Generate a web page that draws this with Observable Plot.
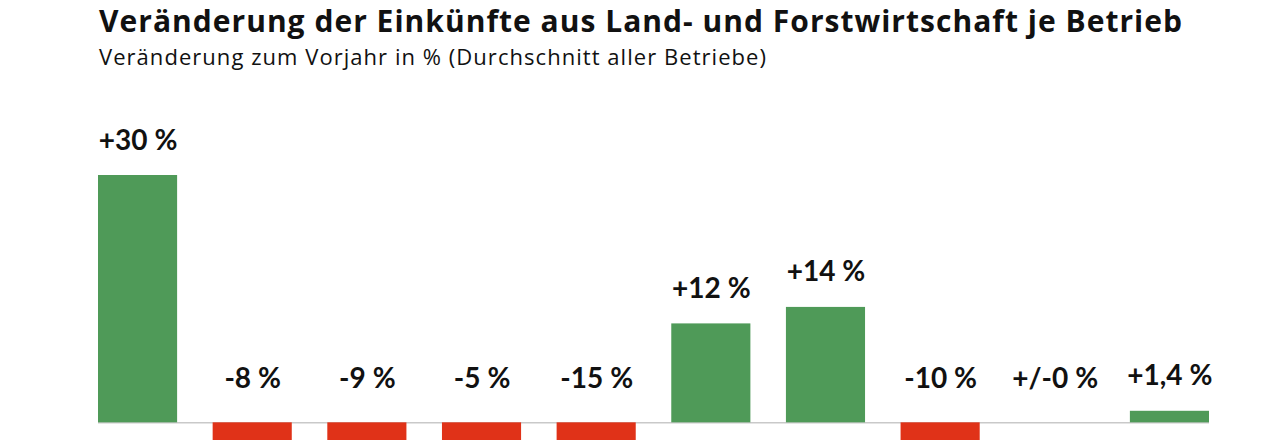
<!DOCTYPE html>
<html>
<head>
<meta charset="utf-8">
<script src="https://cdn.jsdelivr.net/npm/d3@7"></script>
<script src="https://cdn.jsdelivr.net/npm/@observablehq/plot@0.6"></script>
<style>
  html, body { margin: 0; padding: 0; background: #fff; overflow: hidden; }
  body { width: 1280px; height: 440px; font-family: "Open Sans", Lato, sans-serif; color: #111; }
  #title { position: absolute; left: 99px; top: 0px; font-size: 30px; font-weight: 700; line-height: 42px; white-space: nowrap; }
  #subtitle { position: absolute; left: 99px; top: 40px; font-size: 22px; font-weight: 400; line-height: 32px; white-space: nowrap; }
  #chart { position: absolute; left: 0; top: 80px; }
</style>
</head>
<body>
<div id="title">Veränderung der Einkünfte aus Land- und Forstwirtschaft je Betrieb</div>
<div id="subtitle">Veränderung zum Vorjahr in % (Durchschnitt aller Betriebe)</div>
<div id="chart"></div>
<script>
const categories = ["2011", "2012", "2013", "2014", "2015", "2016", "2017", "2018", "2019", "2020"];
const values = [30, -8, -9, -5, -15, 12, 14, -10, 0, 1.4];
const labels = ["+30\u202F%", "-8\u202F%", "-9\u202F%", "-5\u202F%", "-15\u202F%", "+12\u202F%", "+14\u202F%", "-10\u202F%", "+/-0\u202F%", "+1,4\u202F%"];

// fit header text widths to the reference spans
function fit(id, target) {
  const el = document.getElementById(id);
  const w = el.getBoundingClientRect().width;
  const n = el.textContent.length;
  el.style.letterSpacing = ((target - w) / n) + "px";
}
fit("title", 1084);
fit("subtitle", 668);

const data = categories.map((c, i) => ({ category: c, value: values[i], label: labels[i] }));
const positive = data.filter(d => d.value > 0);
const nonPositive = data.filter(d => d.value <= 0);

const chart = Plot.plot({
  width: 1280,
  height: 466,
  marginLeft: 98,
  marginRight: 71,
  marginTop: 95,
  marginBottom: 0,
  x: { domain: categories, paddingInner: 0.31, paddingOuter: 0, round: false, axis: null },
  y: { domain: [-15, 30], axis: null },
  style: { fontFamily: "Lato, 'Noto Sans', sans-serif", background: "white" },
  marks: [
    Plot.ruleY([0], { stroke: "#c9c9c9", strokeWidth: 1.5 }),
    Plot.barY(data, { x: "category", y: "value", fill: d => d.value >= 0 ? "#4f9a58" : "#e03218" }),
    Plot.text(positive, { x: "category", y: "value", text: "label", dy: -26, lineAnchor: "bottom", fontSize: 28, fontWeight: 700, fill: "#111" }),
    Plot.text(nonPositive, { x: "category", y: 0, text: "label", dy: -35, lineAnchor: "bottom", fontSize: 28, fontWeight: 700, fill: "#111" })
  ]
});
document.getElementById("chart").appendChild(chart);
</script>
</body>
</html>
